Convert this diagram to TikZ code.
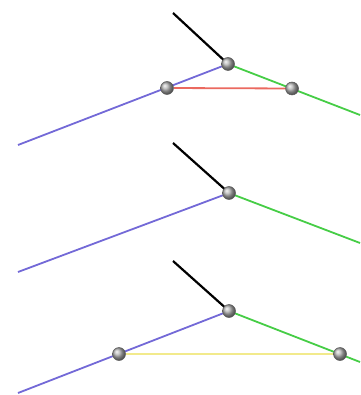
\documentclass[tikz,border=0pt]{standalone}
\definecolor{armblue}{RGB}{115,105,215}
\definecolor{armgreen}{RGB}{70,205,70}
\definecolor{armred}{RGB}{235,105,95}
\definecolor{armyellow}{RGB}{242,234,140}
\begin{document}
\begin{tikzpicture}[x=1pt,y=-1pt,line width=1.8pt,
 jn/.style={circle,shading=ball,ball color=gray!60,draw=gray!70!black,line width=0.5pt,minimum size=13pt,inner sep=0pt},
 hd/.style={black,line width=2.2pt},up/.style={armblue},lo/.style={armgreen}]
\useasboundingbox (0,0) rectangle (360,395);
% top: short tie
\coordinate (h1) at (173,13);
\coordinate (a1) at (18,145);
\coordinate (e1) at (360,115);
\draw[hd] (h1) -- (228,64);
\draw[up] (a1) -- (228,64);
\draw[lo] (228,64) -- (e1);
\node[jn] (p1) at (167,88) {};
\node[jn] (q1) at (292,88.5) {};
\draw[armred] (p1) -- (q1);
\node[jn] (j1) at (228,64) {};
% middle: no tie
\coordinate (h2) at (173,143);
\coordinate (a2) at (18,272);
\coordinate (e2) at (360,243);
\draw[hd] (h2) -- (229,193);
\draw[up] (a2) -- (229,193);
\draw[lo] (229,193) -- (e2);
\node[jn] (j2) at (229,193) {};
% bottom: long tie
\coordinate (h3) at (173,261);
\coordinate (a3) at (18,393);
\coordinate (e3) at (360,362);
\draw[hd] (h3) -- (229,311);
\draw[up] (a3) -- (229,311);
\draw[lo] (229,311) -- (e3);
\node[jn] (p3) at (119,354) {};
\node[jn] (q3) at (340,354) {};
\draw[armyellow,line width=2.4pt] (p3) -- (q3);
\node[jn] (j3) at (229,311) {};
\end{tikzpicture}
\end{document}
